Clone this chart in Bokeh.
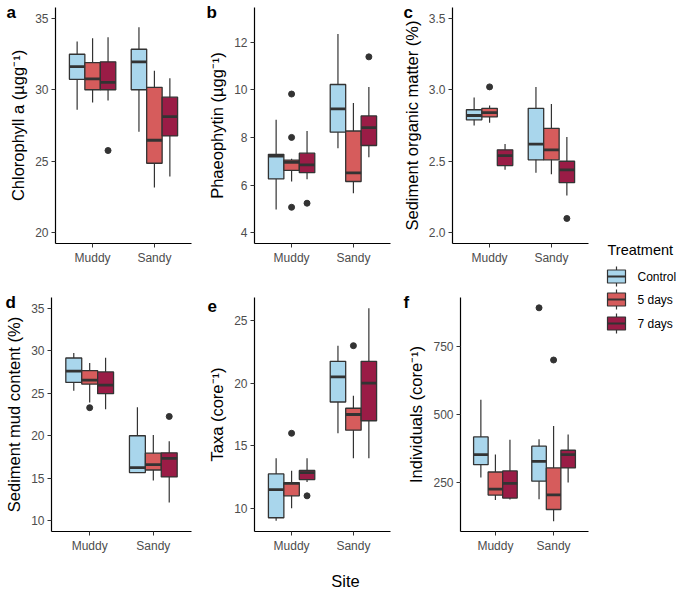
from bokeh.plotting import figure
from bokeh.layouts import row, column
from bokeh.models import Range1d, FixedTicker, Title
from bokeh.embed import file_html
from bokeh.resources import INLINE
from bokeh.core.properties import value

sites = ["Muddy", "Sandy"]
treatments = ["Control", "5 days", "7 days"]
colors = ["#a9d6ec", "#d65c5c", "#9a1c46"]

# boxplot stats: (lower whisker, Q1, median, Q3, upper whisker)
# order: Muddy Control, Muddy 5 days, Muddy 7 days, Sandy Control, Sandy 5 days, Sandy 7 days
chlorophyll = [(28.6, 30.73, 31.62, 32.48, 33.37), (29.1, 30.0, 30.76, 31.9, 33.6),
               (29.24, 30.0, 30.52, 31.95, 33.67), (27.07, 30.0, 31.95, 32.83, 34.37),
               (23.16, 24.86, 26.47, 30.17, 31.32), (23.93, 26.77, 28.12, 29.48, 30.8)]
chlorophyll_out = [(2, 25.75)]  # (group, value)

phaeophytin = [(4.98, 6.26, 7.22, 7.29, 8.74), (6.15, 6.62, 6.95, 7.05, 7.1),
               (6.24, 6.52, 6.85, 7.34, 8.27), (7.55, 8.22, 9.2, 10.22, 12.34),
               (5.66, 6.15, 6.51, 8.27, 9.44), (7.17, 7.66, 8.41, 8.9, 10.11)]
phaeophytin_out = [(1, 9.82), (1, 8.0), (1, 5.07), (2, 5.24), (5, 11.38)]

organic = [(2.75, 2.79, 2.82, 2.86, 2.945), (2.77, 2.81, 2.84, 2.87, 2.89),
           (2.44, 2.47, 2.54, 2.58, 2.62), (2.42, 2.51, 2.62, 2.87, 3.02),
           (2.41, 2.51, 2.58, 2.73, 2.9), (2.26, 2.35, 2.44, 2.5, 2.67)]
organic_out = [(1, 3.02), (5, 2.1)]

mud = [(25.3, 26.27, 27.59, 29.14, 29.72), (23.9, 26.07, 26.54, 27.66, 28.56),
       (23.12, 24.95, 25.95, 27.5, 29.18), (15.67, 15.67, 16.25, 20.0, 23.35),
       (14.74, 15.98, 16.6, 17.96, 20.09), (12.17, 15.16, 17.34, 18.0, 19.36)]
mud_out = [(1, 23.3), (5, 22.27)]

taxa = [(9.0, 9.25, 11.5, 12.75, 14.0), (10.0, 11.0, 12.0, 12.05, 13.0),
        (12.1, 12.3, 12.85, 13.03, 14.0), (16.0, 18.5, 20.5, 21.75, 23.0),
        (14.0, 16.25, 17.5, 18.0, 19.0), (14.0, 17.0, 20.0, 21.75, 26.0)]
taxa_out = [(1, 16.0), (2, 11.0), (4, 23.0)]

individuals = [(270, 317, 354, 419, 556), (187, 205, 227, 290, 354),
               (189, 194, 248, 294, 409), (190, 256, 329, 385, 410),
               (109, 152, 206, 305, 459), (251, 305, 354, 370, 428)]
individuals_out = [(3, 894), (4, 702)]

FONT = "Liberation Sans"
DARK = "#333333"


def make_panel(letter, ylabel, stats, outliers, yr, ticks, labels,
               bl, fw, br, bt, fh, bb, letter_x):
    p = figure(frame_width=fw, frame_height=fh, title=None,
               x_range=Range1d(0.4, 2.6), y_range=Range1d(*yr),
               min_border_left=bl, min_border_right=br,
               min_border_top=bt, min_border_bottom=bb,
               output_backend="svg", toolbar_location=None)
    p.grid.visible = False
    p.outline_line_color = None

    xs = [s + 1 + (t - 1) * 0.25 for s in range(2) for t in range(3)]
    fills = colors * 2
    lw = [st[0] for st in stats]
    q1 = [st[1] for st in stats]
    med = [st[2] for st in stats]
    q3 = [st[3] for st in stats]
    uw = [st[4] for st in stats]

    p.segment(x0=xs, y0=lw, x1=xs, y1=uw, line_color=DARK, line_width=1.2)
    p.vbar(x=xs, width=0.25, bottom=q1, top=q3, fill_color=fills,
           line_color=DARK, line_width=1.3)
    p.segment(x0=[x - 0.125 for x in xs], y0=med, x1=[x + 0.125 for x in xs], y1=med,
              line_color=DARK, line_width=2.8)
    p.scatter(x=[xs[g] for g, v in outliers], y=[v for g, v in outliers],
              size=6, color=DARK)

    p.xaxis.ticker = FixedTicker(ticks=[1, 2])
    p.xaxis.major_label_overrides = {1: sites[0], 2: sites[1]}
    p.yaxis.ticker = FixedTicker(ticks=ticks)
    p.yaxis.major_label_overrides = dict(zip(ticks, labels))
    p.yaxis.axis_label = ylabel
    for ax in p.axis:
        ax.axis_line_color = "black"
        ax.axis_line_width = 1.2
        ax.major_tick_line_color = DARK
        ax.major_tick_out = 4
        ax.major_tick_in = 0
        ax.minor_tick_line_color = None
        ax.major_label_text_font = FONT
        ax.major_label_text_font_size = "12px"
        ax.major_label_text_color = "#4d4d4d"
        ax.major_label_standoff = 3
        ax.axis_label_text_font = FONT
        ax.axis_label_text_font_size = "16.5px"
        ax.axis_label_text_font_style = "normal"
        ax.axis_label_text_color = "black"
        ax.axis_label_standoff = 5

    # panel letter as a left-aligned title pushed into the left border,
    # negative standoff lets it sit level with the top of the frame
    p.add_layout(Title(text=letter, align="left", offset=letter_x - bl, standoff=-28,
                       text_font=FONT, text_font_size="17px", text_color="black",
                       text_font_style="bold"), "above")
    return p


pa = make_panel("a", "Chlorophyll a (µgg⁻¹)", chlorophyll, chlorophyll_out,
                (19.25, 35.75), [20, 25, 30, 35], ["20", "25", "30", "35"],
                55, 136, 9, 7, 236, 50, 6)
pb = make_panel("b", "Phaeophytin (µgg⁻¹)", phaeophytin, phaeophytin_out,
                (3.55, 13.45), [4, 6, 8, 10, 12], ["4", "6", "8", "10", "12"],
                54, 136, 8, 7, 236, 50, 6)
pc = make_panel("c", "Sediment organic matter (%)", organic, organic_out,
                (1.925, 3.575), [2.0, 2.5, 3.0, 3.5], ["2.0", "2.5", "3.0", "3.5"],
                54, 136, 8, 7, 236, 50, 5)
pd_ = make_panel("d", "Sediment mud content (%)", mud, mud_out,
                 (8.75, 36.25), [10, 15, 20, 25, 30, 35], ["10", "15", "20", "25", "30", "35"],
                 51, 140, 9, 4, 234, 30, 5)
pe = make_panel("e", "Taxa (core⁻¹)", taxa, taxa_out,
                (8.15, 26.85), [10, 15, 20, 25], ["10", "15", "20", "25"],
                54, 136, 8, 4, 234, 30, 7)
pf = make_panel("f", "Individuals (core⁻¹)", individuals, individuals_out,
                (71, 932), [250, 500, 750], ["250", "500", "750"],
                62, 128, 8, 4, 234, 30, 5)

# legend drawn in its own small figure (pixel-like coordinates, y down)
leg = figure(width=89, height=561, x_range=Range1d(0, 89), y_range=Range1d(561, 0),
             output_backend="svg", toolbar_location=None, min_border=0)
leg.axis.visible = False
leg.grid.visible = False
leg.outline_line_color = None
ky = [276, 299, 323]
leg.text(x=[11], y=[249], text=["Treatment"], text_font=value(FONT),
         text_font_size="14.5px", text_baseline="middle", text_color="black")
leg.segment(x0=[20] * 3, y0=[y - 10 for y in ky], x1=[20] * 3, y1=[y + 10 for y in ky],
            line_color=DARK, line_width=1.2)
leg.rect(x=[20] * 3, y=ky, width=18, height=13, fill_color=colors,
         line_color=DARK, line_width=1.2)
leg.segment(x0=[11] * 3, y0=ky, x1=[29] * 3, y1=ky, line_color=DARK, line_width=2.2)
leg.text(x=[41] * 3, y=ky, text=treatments, text_font=value(FONT),
         text_font_size="12px", text_baseline="middle", text_color="black")

# shared x-axis title
site = figure(width=685, height=33, x_range=Range1d(0, 685), y_range=Range1d(33, 0),
              output_backend="svg", toolbar_location=None, min_border=0)
site.axis.visible = False
site.grid.visible = False
site.outline_line_color = None
site.text(x=[345], y=[19], text=["Site"], text_font=value(FONT),
          text_font_size="16.5px", text_align="center", text_baseline="middle")

layout = column(row(column(row(pa, pb, pc), row(pd_, pe, pf)), leg), site)

open("out.html", "w").write(file_html(layout, INLINE))
